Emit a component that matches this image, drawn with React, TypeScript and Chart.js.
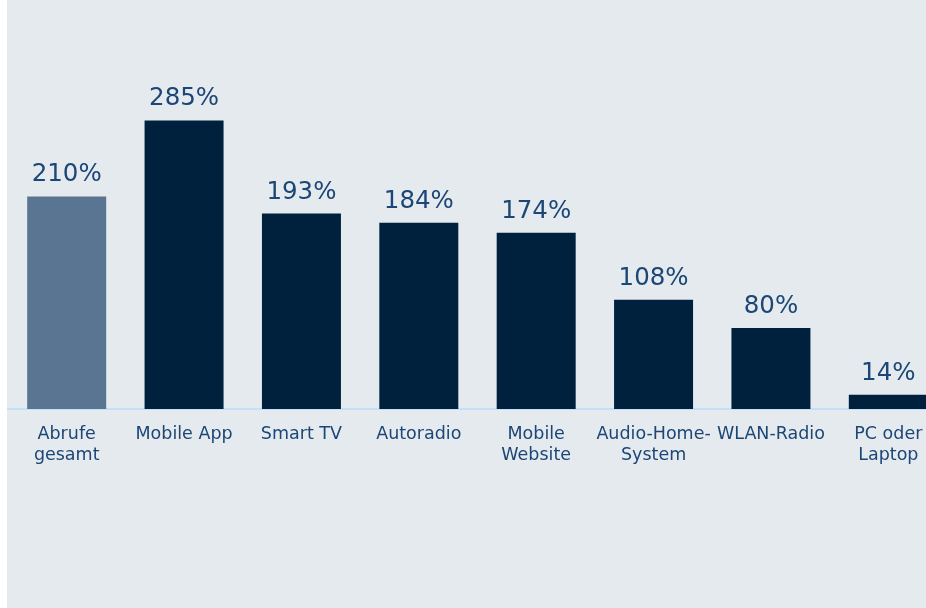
import React, { useEffect, useRef } from "react";
import { Chart, registerables } from "chart.js";

Chart.register(...registerables);

const categories: (string | string[])[] = [
  ["Abrufe", "gesamt"],
  "Mobile App",
  "Smart TV",
  "Autoradio",
  ["Mobile", "Website"],
  ["Audio-Home-", "System"],
  "WLAN-Radio",
  ["PC oder", "Laptop"],
];
const values: number[] = [210, 285, 193, 184, 174, 108, 80, 14];
const valueLabels: string[] = ["210%", "285%", "193%", "184%", "174%", "108%", "80%", "14%"];
const barColors: string[] = ["#5a7591", "#00213d", "#00213d", "#00213d", "#00213d", "#00213d", "#00213d", "#00213d"];

const TEXT = "#1b4675";
const FONT = "'DejaVu Sans', Verdana, sans-serif";

const valueLabelPlugin = {
  id: "valueLabels",
  afterDatasetsDraw(chart: any) {
    const ctx = chart.ctx;
    const meta = chart.getDatasetMeta(0);
    ctx.save();
    ctx.font = `24.5px ${FONT}`;
    ctx.fillStyle = TEXT;
    ctx.textAlign = "center";
    ctx.textBaseline = "alphabetic";
    meta.data.forEach((bar: any, i: number) => {
      ctx.fillText(valueLabels[i], bar.x, bar.y - 15);
    });
    ctx.restore();
  },
};

export default function App() {
  const ref = useRef<HTMLCanvasElement>(null);
  useEffect(() => {
    if (!ref.current) return;
    const chart = new Chart(ref.current, {
      type: "bar",
      data: {
        labels: categories,
        datasets: [
          {
            data: values,
            backgroundColor: barColors,
            borderWidth: 0,
            categoryPercentage: 1,
            barPercentage: 0.673,
          },
        ],
      },
      options: {
        animation: false,
        responsive: false,
        maintainAspectRatio: false,
        layout: { padding: { top: 4, left: 1, right: 0, bottom: 0 } },
        plugins: { legend: { display: false }, tooltip: { enabled: false } },
        scales: {
          y: { display: false, min: 0, max: 400 },
          x: {
            grid: { display: false, drawTicks: false },
            border: { display: true, color: "#c4e0f8", width: 2 },
            ticks: {
              color: TEXT,
              font: { family: FONT, size: 17.5, lineHeight: 1.2 },
              padding: 15,
              maxRotation: 0,
              autoSkip: false,
            },
            afterFit(scale: any) {
              scale.height = 199;
            },
          },
        },
      },
      plugins: [valueLabelPlugin],
    });
    return () => chart.destroy();
  }, []);
  return (
    <div style={{ position: "fixed", left: 0, top: 0, width: 926, height: 608, overflow: "hidden", background: "#ffffff" }}>
      <div style={{ position: "absolute", left: 7, top: 0, width: 940, height: 608, background: "#e5eaef" }}>
        <canvas ref={ref} width={940} height={608} style={{ display: "block", width: 940, height: 608 }} />
      </div>
    </div>
  );
}
